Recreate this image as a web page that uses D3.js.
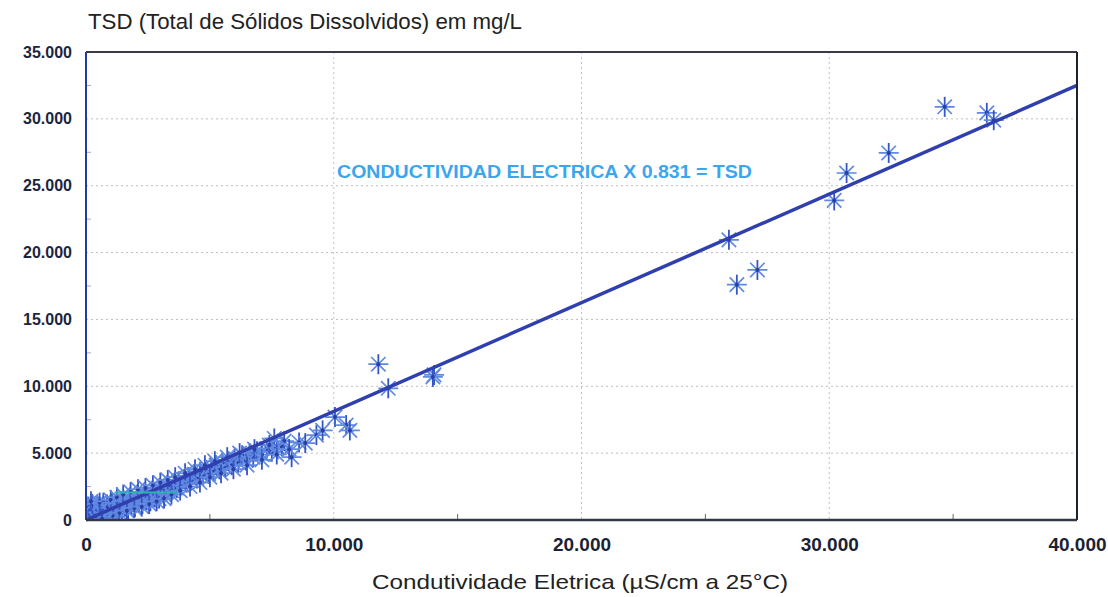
<!DOCTYPE html>
<html>
<head>
<meta charset="utf-8">
<script src="https://cdn.jsdelivr.net/npm/d3@7"></script>
<style>
  body { margin: 0; background: #fff; }
  svg { display: block; font-family: "Liberation Sans", Arial, sans-serif; }
</style>
</head>
<body>
<svg id="chart" width="1108" height="597"></svg>
<script>
// valores (condutividade uS/cm, TSD mg/L)
var condutividade = [
  50, 120, 180, 220, 260, 300, 350, 380, 420, 470, 500, 540, 600, 640, 680, 720, 760, 800, 850, 900,
  950, 1000, 1050, 1100, 1150, 1200, 1260, 1320, 1380, 1450, 1500, 1560, 1620, 1700, 1760, 1820, 1900, 1980, 2050, 2120,
  2200, 2280, 2350, 2430, 2520, 2600, 2680, 2760, 2850, 2950, 3050, 3150, 3250, 3350, 3450, 3550, 3650, 3750, 3850, 3950,
  4050, 4150, 4250, 4350, 4480, 4600, 4720, 4850, 4950, 5050, 5150, 5250, 5380, 5500, 5620, 5750, 5880, 6000, 6150, 6300,
  6450, 6600, 6750, 6900, 7100, 7300, 7500, 7700, 7600, 7900, 8300, 8600, 8850, 9300, 9550, 10050, 10500, 10650,
  11800, 12200, 14050, 14000, 25950, 26270, 27100, 30200, 30700, 32400, 34660, 36360, 36640,
  150, 300, 450, 600, 700, 850, 1000, 1100, 1250, 1350, 1500, 1650, 1800, 1950, 2100, 2250, 2400, 2550, 2700, 2850,
  3000, 3150, 3300, 3450, 3600, 3800, 4000, 4200, 4400, 4600, 4800, 5000, 5200, 5450, 5700, 5950, 6200, 6500, 6800, 7100,
  7400, 7700, 8000, 8200, 100, 250, 400, 550, 200, 650
];
var tsd = [
  40, 350, 90, 600, 200, 420, 150, 700, 300, 520, 900, 250, 650, 420, 1000, 550, 300, 780, 1150, 520,
  900, 700, 1250, 400, 950, 650, 1300, 850, 1100, 600, 1400, 1000, 1250, 800, 1500, 1150, 1350, 1000, 1700, 1300,
  1550, 1200, 1850, 1500, 1750, 1400, 2050, 1700, 1950, 1600, 2250, 1900, 2150, 2500, 2200, 2700, 2400, 2900, 2600, 3050,
  2800, 3200, 2950, 3400, 3100, 3600, 3300, 3750, 3450, 3950, 3600, 4100, 3800, 4250, 3950, 4400, 4100, 4600, 4300, 4850,
  4450, 5000, 4700, 5150, 4900, 5350, 5100, 5500, 6100, 5500, 4700, 5800, 5750, 6350, 6700, 7700, 7100, 6700,
  11650, 9850, 10850, 10700, 20950, 17600, 18700, 23900, 25950, 27450, 30900, 30450, 29900,
  700, 900, 1100, 300, 1300, 900, 1500, 250, 1700, 550, 1900, 700, 2100, 900, 2300, 1000, 2400, 1200, 2600, 1400,
  2800, 1600, 3000, 1900, 3200, 2200, 3500, 2500, 3800, 2800, 4100, 3200, 4400, 3500, 4700, 3800, 5000, 4100, 5300, 4500,
  5600, 4900, 5900, 5300, 1000, 1200, 80, 1300, 1400, 100
];
// reta de ajuste (extremos)
var retaX = [0, 40000];
var retaY = [0, 32500];
// segmento ciano curto perto da origem
var segX = [1150, 3700];
var segY = [2050, 2050];

var xTicks = [0, 10000, 20000, 30000, 40000];
var yTicks = [0, 5000, 10000, 15000, 20000, 25000, 30000, 35000];
var xMinor = [5000, 15000, 25000, 35000];
var yMinor = [2500, 7500, 12500, 17500, 22500, 27500, 32500];

var fmt = function(v) { return v == 0 ? "0" : d3.format(",")(v).replace(/,/g, "."); };

var svg = d3.select("#chart");
var mEsq = 86, mDir = 1077, mTopo = 52, mBase = 520;

var x = d3.scaleLinear().domain([0, 40000]).range([mEsq, mDir]);
var y = d3.scaleLinear().domain([0, 35000]).range([mBase, mTopo]);

svg.append("clipPath").attr("id", "area")
    .append("rect")
    .attr("x", mEsq).attr("y", mTopo)
    .attr("width", mDir - mEsq).attr("height", mBase - mTopo);

// grade pontilhada
svg.append("g").selectAll("line")
    .data(yTicks.filter(function(d) { return d > 0 && d < 35000; }))
    .enter().append("line")
    .attr("x1", mEsq).attr("x2", mDir)
    .attr("y1", function(d) { return y(d); }).attr("y2", function(d) { return y(d); })
    .attr("stroke", "#bdbdbd").attr("stroke-width", 1).attr("stroke-dasharray", "2,3");

svg.append("g").selectAll("line")
    .data(xTicks.filter(function(d) { return d > 0 && d < 40000; }))
    .enter().append("line")
    .attr("y1", mTopo).attr("y2", mBase)
    .attr("x1", function(d) { return x(d); }).attr("x2", function(d) { return x(d); })
    .attr("stroke", "#c4c4c4").attr("stroke-width", 1).attr("stroke-dasharray", "2,3");

// marcas menores
svg.append("g").selectAll("line")
    .data(yMinor)
    .enter().append("line")
    .attr("x1", mEsq).attr("x2", mEsq + 5)
    .attr("y1", function(d) { return y(d); }).attr("y2", function(d) { return y(d); })
    .attr("stroke", "#aaa");

svg.append("g").selectAll("line")
    .data(xMinor)
    .enter().append("line")
    .attr("y1", mBase).attr("y2", mBase - 6)
    .attr("x1", function(d) { return x(d); }).attr("x2", function(d) { return x(d); })
    .attr("stroke", "#666");

// eixos com rotulos
var xAxis = svg.append("g")
    .attr("transform", "translate(0," + mBase + ")")
    .call(d3.axisBottom(x).tickValues(xTicks).tickSize(0).tickPadding(18).tickFormat(fmt));
xAxis.select(".domain").remove();
xAxis.selectAll("text")
    .attr("font-family", "Liberation Sans, Arial, sans-serif")
    .attr("font-size", 19).attr("font-weight", "bold").attr("fill", "#1b2233");

var yAxis = svg.append("g")
    .attr("transform", "translate(" + (mEsq - 14) + ",0)")
    .call(d3.axisLeft(y).tickValues(yTicks).tickSize(0).tickPadding(0).tickFormat(fmt));
yAxis.select(".domain").remove();
yAxis.selectAll("text")
    .attr("font-family", "Liberation Sans, Arial, sans-serif")
    .attr("font-size", 16).attr("font-weight", "bold").attr("fill", "#1b2540");

// pontos (asterisco de 8 bracos)
var r = 10, dg = r * 0.72;
var pts = svg.append("g").attr("clip-path", "url(#area)")
    .selectAll("g")
    .data(d3.range(condutividade.length))
    .enter().append("g")
    .attr("transform", function(i) { return "translate(" + x(condutividade[i]) + "," + y(tsd[i]) + ")"; });

pts.append("path")
    .attr("d", "M" + (-r) + ",0H" + r + "M" + (-dg) + "," + (-dg) + "L" + dg + "," + dg + "M" + (-dg) + "," + dg + "L" + dg + "," + (-dg))
    .attr("stroke", "#6089e0").attr("stroke-width", 1.7).attr("fill", "none");
pts.append("path")
    .attr("d", "M0," + (-r) + "V" + r)
    .attr("stroke", "#3555c6").attr("stroke-width", 1.8);
pts.append("circle")
    .attr("r", 2).attr("fill", "#2a3fa5");

// reta de regressao
var linha = d3.line().x(function(d) { return x(d[0]); }).y(function(d) { return y(d[1]); });
svg.append("path")
    .datum(d3.zip(retaX, retaY))
    .attr("d", linha)
    .attr("stroke", "#2f3fae").attr("stroke-width", 3.5).attr("fill", "none");

svg.append("path")
    .datum(d3.zip(segX, segY))
    .attr("d", linha)
    .attr("stroke", "#33b3b0").attr("stroke-width", 2).attr("fill", "none");

// moldura
svg.append("line").attr("x1", mEsq).attr("x2", mEsq).attr("y1", mTopo).attr("y2", mBase)
    .attr("stroke", "#1f3c9e").attr("stroke-width", 2);
svg.append("line").attr("x1", mEsq).attr("x2", mDir).attr("y1", mTopo).attr("y2", mTopo)
    .attr("stroke", "#3a3a48").attr("stroke-width", 2);
svg.append("line").attr("x1", mDir).attr("x2", mDir).attr("y1", mTopo).attr("y2", mBase)
    .attr("stroke", "#1d2230").attr("stroke-width", 2);
svg.append("line").attr("x1", mEsq).attr("x2", mDir).attr("y1", mBase).attr("y2", mBase)
    .attr("stroke", "#333845").attr("stroke-width", 2.5);

// textos
svg.append("text")
    .attr("x", 88).attr("y", 29)
    .attr("font-size", 22).attr("fill", "#222")
    .attr("textLength", 434).attr("lengthAdjust", "spacingAndGlyphs")
    .text("TSD (Total de Sólidos Dissolvidos) em mg/L");

svg.append("text")
    .attr("x", 372).attr("y", 589)
    .attr("font-size", 21).attr("fill", "#222")
    .attr("textLength", 416).attr("lengthAdjust", "spacingAndGlyphs")
    .text("Condutividade Eletrica (µS/cm a 25°C)");

svg.append("text")
    .attr("x", 337).attr("y", 178)
    .attr("font-size", 18).attr("font-weight", "bold").attr("fill", "#3ba6ee")
    .attr("textLength", 415).attr("lengthAdjust", "spacingAndGlyphs")
    .text("CONDUCTIVIDAD ELECTRICA X 0.831 = TSD");
</script>
</body>
</html>
